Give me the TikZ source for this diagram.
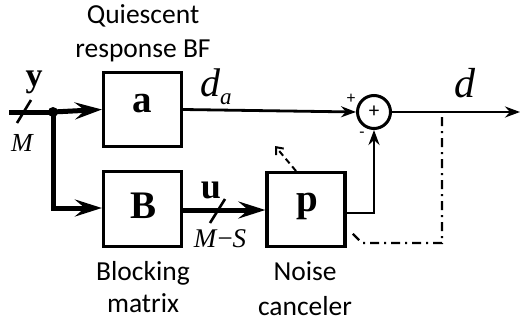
\documentclass[tikz,border=0pt]{standalone}
\usepackage{fontspec}
\setmainfont{Liberation Serif}
\newfontfamily\calib{Carlito}
\usetikzlibrary{arrows.meta}
\begin{document}
\begin{tikzpicture}[x=1pt,y=-1pt,
  blk/.style={draw, line width=3.2pt, minimum width=78pt, minimum height=74.5pt, inner sep=0pt},
  boxtxt/.style={anchor=base, inner sep=0pt, font=\fontsize{39}{40}\selectfont\bfseries},
  thickline/.style={line width=5pt},
  thinline/.style={line width=2.8pt},
  bigtip/.style={-{Stealth[length=27pt,width=17pt,inset=10pt]}},
  smalltip/.style={-{Stealth[length=15pt,width=11pt,inset=5pt]}},
  captxt/.style={font=\calib\fontsize{27.5}{33}\selectfont, align=center, anchor=base},
  lbl/.style={anchor=base, inner sep=0pt},
  slash/.style={line width=2.6pt},
  dd/.style={line width=2.2pt, dash pattern=on 9pt off 5pt on 2pt off 5pt}
]
\useasboundingbox (0,0) rectangle (521,324);

% blocks
\node[blk] (a) at (142.5,109.5) {};
\node[boxtxt] (alab) at (142,112) {a};
\node[blk] (B) at (142.5,209) {};
\node[boxtxt] (Blab) at (144,218) {B};
\node[blk] (p) at (306,209.5) {};
\node[boxtxt] (plab) at (307,211) {p};
\node[draw, circle, line width=3pt, minimum size=33pt, inner sep=0pt, font=\calib\fontsize{21}{21}\selectfont] (sum) at (374,112) {+};

% coordinates
\coordinate (in) at (9,112);
\coordinate (j) at (53,112);
\coordinate (jb) at (53,208);
\coordinate (out) at (520,112);
\coordinate (pout) at (374,213);
\coordinate (tap) at (442,117);
\coordinate (c1) at (442,243);
\coordinate (c2) at (362,243);
\coordinate (c3) at (351,232);
\coordinate (adS) at (296,171);
\coordinate (adE) at (275,146);

% input
\draw[thickline] (in) -- (j);
\fill (j) circle (5pt);
\draw[thickline, bigtip] (j) -- (a.west);
\draw[thickline, bigtip] (j) -- (jb) -- (B.west |- jb);
\draw[slash] (17,123) -- (31,100);

% a -> sum
\draw[thinline, smalltip] (a.east) -- (sum.west);
% B -> p
\draw[thickline, bigtip] (B.east |- 0,210) -- (p.west |- 0,210);
\draw[slash] (210,223) -- (225,199);
% p -> sum
\draw[thinline, smalltip] (p.east |- pout) -- (pout) -- (sum.south);
% output
\draw[thinline, smalltip] (sum.east) -- (out);
% feedback dash-dot
\draw[dd] (tap) -- (c1) -- (c2) -- (c3);
% adaptation arrow
\draw[line width=2pt, dash pattern=on 6pt off 4pt, -{Straight Barb[length=6pt,width=10pt]}] (adS) -- (adE);

% labels
\node[lbl, font=\fontsize{34}{34}\selectfont\bfseries] (ylab) at (34,86) {y};
\node[lbl, font=\fontsize{26}{26}\selectfont\itshape] (Mlab) at (22,151) {M};
\node[lbl, anchor=base west, font=\fontsize{40}{40}\selectfont\itshape] (dalab) at (200,96) {d\raisebox{-8pt}{\fontsize{23}{23}\selectfont a}};
\node[lbl, font=\fontsize{36}{36}\selectfont\bfseries] (ulab) at (211,198) {u};
\node[lbl, font=\fontsize{27}{27}\selectfont] (MSlab) at (220,247) {\textit{M}−\textit{S}};
\node[lbl, font=\fontsize{42}{42}\selectfont\itshape] (dlab) at (465,97) {d};
\node[lbl, font=\calib\fontsize{17}{17}\selectfont] (plus) at (351,103) {+};
\node[lbl, font=\calib\fontsize{17}{17}\selectfont] (minus) at (362,137) {-};

\node[captxt] (q1) at (143,23) {Quiescent};
\node[captxt] (q2) at (143,57) {response BF};
\node[captxt] (b1) at (143,280) {Blocking};
\node[captxt] (b2) at (143,312) {matrix};
\node[captxt] (n1) at (305,280) {Noise};
\node[captxt] (n2) at (305,315) {canceler};
\end{tikzpicture}
\end{document}
